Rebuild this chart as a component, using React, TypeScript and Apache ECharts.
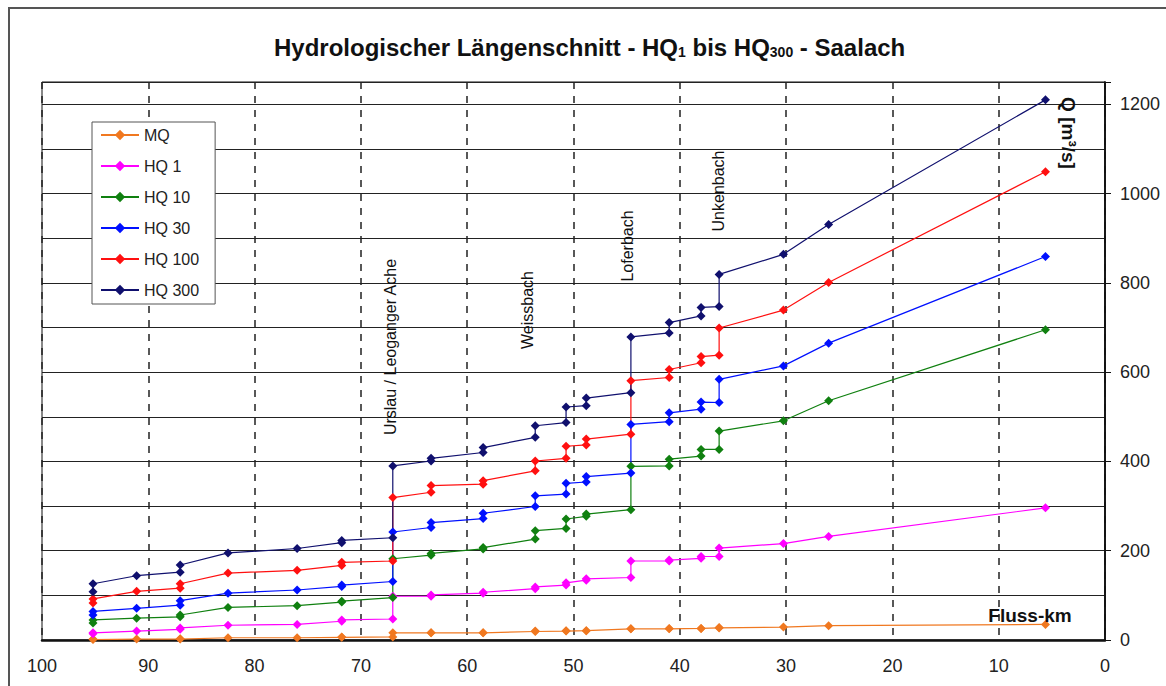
import React, { useEffect, useRef } from "react";
import * as echarts from "echarts";

const KM = [95.2, 95.2, 91.1, 87.0, 87.0, 82.5, 76.0, 71.8, 71.8, 67.0, 67.0, 63.4, 63.4, 58.5, 58.5, 53.6, 53.6, 50.7, 50.7, 48.8, 48.8, 44.6, 44.6, 41.0, 41.0, 38.0, 38.0, 36.3, 36.3, 30.25, 26.0, 5.6];

const MQ = [1, 2, 2, 2, 3, 5, 5, 6, 7, 7, 16, 16, 16, 16, 16, 19, 20, 20, 21, 21, 21, 25, 25, 25, 26, 26, 26, 27, 28, 29, 32, 35];
const HQ1 = [14, 16, 20, 24, 27, 33, 35, 42, 45, 47, 98, 98, 101, 105, 107, 115, 119, 123, 128, 134, 137, 140, 177, 177, 179, 183, 187, 187, 206, 216, 232, 296];
const HQ10 = [38, 45, 49, 52, 56, 73, 77, 85, 87, 95, 182, 190, 194, 204, 207, 226, 245, 250, 271, 277, 282, 292, 389, 390, 405, 412, 427, 427, 468, 491, 536, 695];
const HQ30 = [56, 64, 71, 78, 88, 105, 112, 120, 123, 131, 242, 252, 263, 272, 284, 299, 323, 327, 351, 354, 366, 374, 483, 489, 509, 517, 533, 532, 584, 614, 665, 859];
const HQ100 = [83, 92, 109, 116, 126, 150, 156, 167, 174, 177, 319, 331, 346, 349, 357, 379, 401, 407, 434, 437, 450, 461, 581, 588, 606, 621, 635, 638, 699, 739, 801, 1049];
const HQ300 = [108, 126, 144, 152, 168, 195, 205, 218, 223, 229, 390, 401, 407, 420, 431, 454, 480, 487, 522, 525, 542, 554, 679, 688, 711, 726, 745, 747, 819, 864, 931, 1210];

const SERIES_NAMES = ["MQ", "HQ 1", "HQ 10", "HQ 30", "HQ 100", "HQ 300"];
const SERIES_VALUES = [MQ, HQ1, HQ10, HQ30, HQ100, HQ300];
const SERIES_COLORS = ["#F07820", "#FF00FF", "#108010", "#0010FF", "#FF1010", "#10106E"];

const X_TICKS = { min: 0, max: 100, interval: 10 };
const Y_GRID = { min: 0, max: 1250, interval: 100 };
const Y_LABELS = { interval: 200, lastLabel: 1200 };

const TRIBUTARIES = [
  { name: "Urslau / Leoganger Ache", x: 390, y: 347 },
  { name: "Weissbach", x: 527, y: 310 },
  { name: "Loferbach", x: 627, y: 246 },
  { name: "Unkenbach", x: 718, y: 191 },
];

const FONT = "'Liberation Sans', Arial, Helvetica, sans-serif";

export default function App() {
  const ref = useRef<HTMLDivElement>(null);
  useEffect(() => {
    document.body.style.margin = "0";
    const chart = echarts.init(ref.current!, null, { renderer: "svg" });
    const series = SERIES_NAMES.map((name, si) => ({
      name,
      type: "line",
      yAxisIndex: 0,
      data: KM.map((k, i) => [k, SERIES_VALUES[si][i]]),
      symbol: "diamond",
      symbolSize: 9,
      showSymbol: true,
      lineStyle: { width: 1.2, color: SERIES_COLORS[si] },
      itemStyle: { color: SERIES_COLORS[si] },
      z: 3,
    }));
    chart.setOption({
      animation: false,
      backgroundColor: "#ffffff",
      title: {
        left: 269,
        top: 25,
        text: "{a|Hydrologischer Längenschnitt - HQ}{s|1}{a| bis HQ}{s|300}{a| - Saalach}",
        textStyle: {
          rich: {
            a: { fontFamily: FONT, fontWeight: "bold", fontSize: 24, color: "#111", lineHeight: 29, verticalAlign: "bottom" },
            s: { fontFamily: FONT, fontWeight: "bold", fontSize: 14, color: "#111", lineHeight: 23, verticalAlign: "bottom" },
          },
        },
      },
      legend: {
        orient: "vertical",
        left: 92,
        top: 122,
        padding: [5, 16, 6, 8],
        backgroundColor: "#fff",
        borderColor: "#555",
        borderWidth: 1,
        itemWidth: 38,
        itemHeight: 13,
        itemGap: 15,
        textStyle: { fontFamily: FONT, fontSize: 16, color: "#222" },
        data: SERIES_NAMES,
      },
      grid: {
        left: 42,
        right: 61,
        top: 82,
        bottom: 46,
        show: true,
        borderColor: "#111",
        borderWidth: 1,
        backgroundColor: "transparent",
      },
      xAxis: {
        type: "value",
        inverse: true,
        min: X_TICKS.min,
        max: X_TICKS.max,
        interval: X_TICKS.interval,
        axisLine: { show: true, onZero: false, lineStyle: { color: "#111", width: 2.5 } },
        axisTick: { show: false },
        axisLabel: { margin: 17, fontFamily: FONT, fontSize: 18, color: "#222" },
        splitLine: { show: true, lineStyle: { color: "#222", width: 1.5, type: [7, 7] } },
      },
      yAxis: [
        {
          type: "value",
          position: "right",
          min: Y_GRID.min,
          max: Y_GRID.max,
          interval: Y_GRID.interval,
          axisLine: { show: true, lineStyle: { color: "#111", width: 1.5 } },
          axisTick: { show: false },
          axisLabel: { show: false },
          splitLine: { show: true, lineStyle: { color: "#222", width: 1 } },
        },
        {
          type: "value",
          position: "right",
          min: Y_GRID.min,
          max: Y_GRID.max,
          interval: Y_LABELS.interval,
          axisLine: { show: true, lineStyle: { color: "#111", width: 1.5 } },
          axisTick: { show: true, length: 6, lineStyle: { color: "#111" } },
          axisLabel: {
            margin: 15,
            fontFamily: FONT,
            fontSize: 18,
            color: "#222",
            formatter: (v: number) => (v <= Y_LABELS.lastLabel ? String(v) : ""),
          },
          splitLine: { show: false },
        },
      ],
      graphic: [
        {
          type: "rect",
          shape: { x: 9, y: 8, width: 1200, height: 720 },
          style: { fill: "none", stroke: "#555", lineWidth: 2 },
          silent: true,
        },
        ...TRIBUTARIES.map((t) => ({
          type: "text",
          x: t.x,
          y: t.y,
          rotation: Math.PI / 2,
          style: {
            text: t.name,
            fontFamily: FONT,
            fontSize: 16,
            fill: "#111",
            align: "center",
            verticalAlign: "middle",
          },
          z: 10,
        })),
        {
          type: "text",
          x: 1068,
          y: 133,
          rotation: -Math.PI / 2,
          style: {
            text: "Q [m³/s]",
            fontFamily: FONT,
            fontSize: 19,
            fontWeight: "bold",
            fill: "#111",
            align: "center",
            verticalAlign: "middle",
          },
          z: 10,
        },
        {
          type: "text",
          x: 1030,
          y: 615,
          style: {
            text: "Fluss-km",
            fontFamily: FONT,
            fontSize: 19,
            fontWeight: "bold",
            fill: "#111",
            align: "center",
            verticalAlign: "middle",
          },
          z: 10,
        },
      ],
      series,
    });
    return () => chart.dispose();
  }, []);
  return <div ref={ref} style={{ width: 1166, height: 686 }} />;
}
